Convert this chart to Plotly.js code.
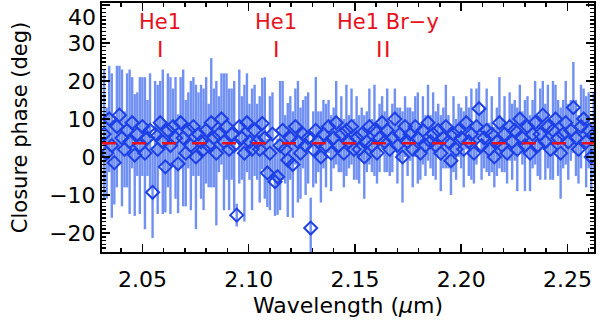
<!DOCTYPE html>
<html>
<head>
<meta charset="utf-8">
<script src="https://cdn.plot.ly/plotly-3.0.1.min.js"></script>
<style>
  html, body { margin: 0; padding: 0; background: #fff; }
  #cp { width: 600px; height: 324px; }
</style>
</head>
<body>
<div id="cp"></div>
<script>
// wavelength grid (micron)
var wl = [
  2.0320, 2.0332, 2.0344, 2.0356, 2.0368, 2.0380, 2.0392, 2.0404, 2.0416, 2.0428,
  2.0440, 2.0452, 2.0464, 2.0476, 2.0488, 2.0500, 2.0512, 2.0524, 2.0536, 2.0548,
  2.0560, 2.0572, 2.0584, 2.0596, 2.0608, 2.0620, 2.0632, 2.0644, 2.0656, 2.0668,
  2.0680, 2.0692, 2.0704, 2.0716, 2.0728, 2.0740, 2.0752, 2.0764, 2.0776, 2.0788,
  2.0800, 2.0812, 2.0824, 2.0836, 2.0848, 2.0860, 2.0872, 2.0884, 2.0896, 2.0908,
  2.0920, 2.0932, 2.0944, 2.0956, 2.0968, 2.0980, 2.0992, 2.1004, 2.1016, 2.1028,
  2.1040, 2.1052, 2.1064, 2.1076, 2.1088, 2.1100, 2.1112, 2.1124, 2.1136, 2.1148,
  2.1160, 2.1172, 2.1184, 2.1196, 2.1208, 2.1220, 2.1232, 2.1244, 2.1256, 2.1268,
  2.1280, 2.1292, 2.1304, 2.1316, 2.1328, 2.1340, 2.1352, 2.1364, 2.1376, 2.1388,
  2.1400, 2.1412, 2.1424, 2.1436, 2.1448, 2.1460, 2.1472, 2.1484, 2.1496, 2.1508,
  2.1520, 2.1532, 2.1544, 2.1556, 2.1568, 2.1580, 2.1592, 2.1604, 2.1616, 2.1628,
  2.1640, 2.1652, 2.1664, 2.1676, 2.1688, 2.1700, 2.1712, 2.1724, 2.1736, 2.1748,
  2.1760, 2.1772, 2.1784, 2.1796, 2.1808, 2.1820, 2.1832, 2.1844, 2.1856, 2.1868,
  2.1880, 2.1892, 2.1904, 2.1916, 2.1928, 2.1940, 2.1952, 2.1964, 2.1976, 2.1988,
  2.2000, 2.2012, 2.2024, 2.2036, 2.2048, 2.2060, 2.2072, 2.2084, 2.2096, 2.2108,
  2.2120, 2.2132, 2.2144, 2.2156, 2.2168, 2.2180, 2.2192, 2.2204, 2.2216, 2.2228,
  2.2240, 2.2252, 2.2264, 2.2276, 2.2288, 2.2300, 2.2312, 2.2324, 2.2336, 2.2348,
  2.2360, 2.2372, 2.2384, 2.2396, 2.2408, 2.2420, 2.2432, 2.2444, 2.2456, 2.2468,
  2.2480, 2.2492, 2.2504, 2.2516, 2.2528, 2.2540, 2.2552, 2.2564, 2.2576, 2.2588,
  2.2600, 2.2612, 2.2624
];

// closure phase (deg)
var cphase = [
  6, 1, 10, 3, -1.5, 8, 11, 5, 2, 7,
  4, 9, 0.5, 6, 3, 8, 1, 5, 7, -9.3,
  6, 2, 9, 4, -2.6, 7, 3, 8, 5, -1.8,
  9, 5, 1, 7, 3, 8, 0, 6, 4, 2,
  7, 3, 9, 5, 1, 6, 10, 4, 8, 2,
  6, 3, -15.3, 8, 5, 1, 9, 4, 2, 7,
  4, 2, 8.8, 5, -4.2, 1, 6, -6.5, -5.2, 3,
  7, 2, -0.8, 5, -2, 8, 4, 1, 6, 3,
  5, -18.7, 2, 7, 4, 0, 6, 3, 8, 1,
  5, 9, 3, 6, 1, 7, 4, 8, 2, 5,
  2, 6, 0, 4, 8, 3, 7, 1, 5, 9,
  4, 7, 2, 5, 10, 3, 6, 0, 8, 4,
  6, 2, 8, 5, 1, 7, 3, 9, 4, 6,
  3, 7, 1, 5, 8, 4, -1, 6, 2, 7,
  5, 2, 9, 4, 6, 1, 8, 12.7, 3, 5,
  7, 2, 6, 0, 4, 9, 3, 6, 1, 8,
  4, 7, 2, 10, 5, 3, 8, 1, 6, 9,
  3, 6, 11, 4, 8, 2, 7, 10, 5, 1,
  6, 9, 4, 7, 13, 5, 2, 8, 10, 4,
  7, 0, 6
];

// 1-sigma errors (deg)
var cperr = [
  17, 12, 14, 19, 11, 16, 13, 18, 10, 15,
  19, 12, 16, 11, 18, 13, 20, 10, 15, 12,
  14, 17, 11, 19, 12, 15, 18, 10, 16, 13,
  12, 18, 14, 10, 17, 13, 19, 11, 15, 16,
  14, 11, 17, 13, 19, 10, 12, 18, 14, 16,
  12, 17, 3, 15, 11, 18, 13, 10, 16, 12,
  10, 14, 12, 16, 9, 15, 11, 9, 10, 17,
  13, 9, 15, 11, 14, 10, 16, 12, 9, 13,
  12, 8, 10, 14, 8, 12, 9, 11, 7, 10,
  8, 11, 7, 10, 9, 12, 7, 10, 8, 11,
  9, 7, 11, 8, 10, 7, 12, 8, 9, 7,
  8, 11, 7, 9, 8, 10, 7, 12, 8, 9,
  7, 10, 8, 12, 7, 9, 8, 10, 7, 11,
  9, 7, 10, 8, 11, 7, 9, 10, 8, 7,
  8, 10, 7, 9, 12, 8, 10, 7, 9, 8,
  11, 7, 10, 8, 9, 12, 7, 10, 8, 9,
  10, 8, 11, 9, 7, 12, 8, 10, 9, 11,
  8, 12, 9, 10, 11, 8, 13, 9, 10, 12,
  9, 11, 10, 8, 12, 10, 9, 11, 8, 12,
  10, 9, 11
];

// y axis ticks
var yTicks = [-20, -10, 0, 10, 20, 30, 40];
var yTickText = ['\u221220', '\u221210', '0', '10', '20', '30', ''];

// mean level and line identifications
var meanCP = 3.6;
var lineNames = ['He1', 'He1', 'He1 Br\u2212y'];
var lineLabelX = [2.0585, 2.1130, 2.1655];
var lineMarkX = [2.0585, 2.1130, 2.1614, 2.1654];

var fnt = 'DejaVu Sans, Liberation Sans, sans-serif';

var data = [{
  type: 'scatter',
  mode: 'markers',
  x: wl,
  y: cphase,
  error_y: {type: 'data', array: cperr, visible: true,
            color: '#7090f2', thickness: 2.4, width: 0},
  marker: {symbol: 'diamond-open', size: 10, color: '#1d3fe6',
           line: {width: 2, color: '#1d3fe6'}},
  showlegend: false,
  hoverinfo: 'x+y'
}];

var annots = [];
for (var i = 0; i < lineNames.length; i++) {
  annots.push({x: lineLabelX[i], y: 35.5, xref: 'x', yref: 'y',
               text: lineNames[i], showarrow: false,
               font: {family: fnt, size: 21, color: '#e8101c'}});
}
for (var j = 0; j < lineMarkX.length; j++) {
  annots.push({x: lineMarkX[j], y: 28.3, xref: 'x', yref: 'y',
               text: 'I', showarrow: false,
               font: {family: fnt, size: 22, color: '#e8101c'}});
}
// top label "40" sits just under its tick, as in the original
annots.push({x: 0, y: 40, xref: 'paper', yref: 'y', xanchor: 'right',
             yanchor: 'top', xshift: -4, yshift: 2, text: '40',
             showarrow: false, font: {family: fnt, size: 22, color: '#000'}});

var layout = {
  width: 600,
  height: 324,
  margin: {l: 102, r: 6, t: 3, b: 72},
  paper_bgcolor: '#fff',
  plot_bgcolor: '#fff',
  font: {family: fnt, size: 22, color: '#000'},
  xaxis: {
    range: [2.031, 2.2625],
    tickvals: [2.05, 2.10, 2.15, 2.20, 2.25],
    ticktext: ['2.05', '2.10', '2.15', '2.20', '2.25'],
    ticks: 'inside', ticklen: 8, tickwidth: 1.5, tickcolor: '#000',
    minor: {dtick: 0.01, tick0: 2.0, ticks: 'inside', ticklen: 4, tickcolor: '#000'},
    showline: true, linecolor: '#000', linewidth: 2, mirror: 'allticks',
    showgrid: false, zeroline: false,
    ticklabelstandoff: 7,
    title: {text: 'Wavelength (<i>\u03bc</i>m)', font: {family: fnt, size: 22}, standoff: 6}
  },
  yaxis: {
    range: [-25, 40.5],
    tickvals: yTicks,
    ticktext: yTickText,
    ticks: 'inside', ticklen: 8, tickwidth: 1.5, tickcolor: '#000',
    minor: {dtick: 1, tick0: 0, ticks: 'inside', ticklen: 4, tickcolor: '#000'},
    showline: true, linecolor: '#000', linewidth: 2, mirror: 'allticks',
    showgrid: false, zeroline: false,
    title: {text: 'Closure phase (deg)', font: {family: fnt, size: 21}, standoff: 16}
  },
  shapes: [{
    type: 'line', xref: 'paper', yref: 'y', layer: 'above',
    x0: 0, x1: 1, y0: meanCP, y1: meanCP,
    line: {color: '#e8101c', width: 2.5, dash: '14px,16px'}
  }],
  annotations: annots
};

Plotly.newPlot('cp', data, layout, {displayModeBar: false, staticPlot: true});
</script>
</body>
</html>
